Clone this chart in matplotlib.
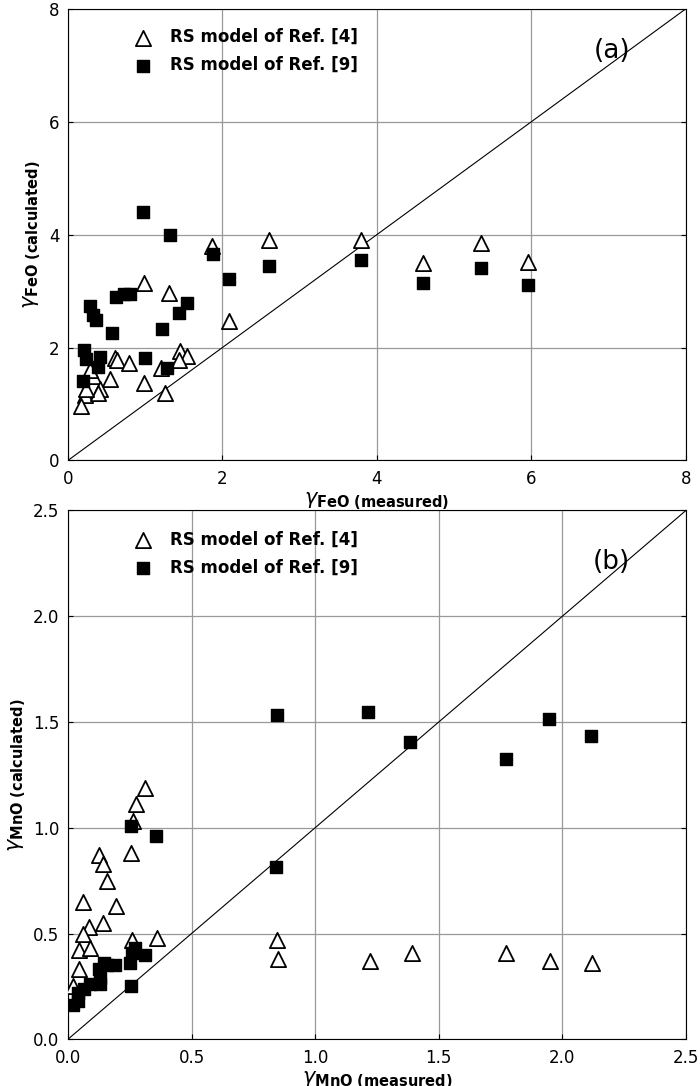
import numpy as np
import matplotlib.pyplot as plt

# panel (a) FeO
a_ref4_x = [1.87, 0.98, 1.31, 2.08, 1.45, 1.54, 1.44, 0.61, 0.64, 0.79, 1.21, 0.54, 0.99, 1.26,
            0.33, 0.28, 0.41, 0.22, 0.17, 0.39, 0.23, 2.6, 3.8, 4.6, 5.35, 5.95]
a_ref4_y = [3.80, 3.15, 2.97, 2.47, 1.93, 1.85, 1.78, 1.81, 1.78, 1.73, 1.63, 1.44, 1.38, 1.20,
            1.50, 1.60, 1.27, 1.16, 0.97, 1.20, 1.27, 3.9, 3.9, 3.5, 3.85, 3.52]
a_ref9_x = [0.97, 1.32, 1.88, 2.09, 0.62, 0.80, 0.29, 0.32, 0.37, 1.54, 1.44, 0.57, 1.22, 0.21,
            0.24, 0.42, 0.39, 1.0, 1.28, 0.20, 0.72, 2.6, 3.8, 4.6, 5.35, 5.95]
a_ref9_y = [4.40, 3.99, 3.66, 3.21, 2.90, 2.94, 2.73, 2.57, 2.48, 2.78, 2.62, 2.25, 2.32, 1.96,
            1.80, 1.84, 1.66, 1.82, 1.63, 1.40, 2.95, 3.45, 3.55, 3.15, 3.4, 3.1]

# panel (b) MnO
b_ref4_x = [0.31, 0.275, 0.265, 0.255, 0.125, 0.14, 0.16, 0.06, 0.195, 0.14, 0.085, 0.06, 0.26,
            0.36, 0.045, 0.09, 0.045, 0.02, 0.845, 0.85, 1.22, 1.39, 1.77, 1.95, 2.12]
b_ref4_y = [1.19, 1.11, 1.03, 0.88, 0.87, 0.83, 0.75, 0.65, 0.63, 0.55, 0.53, 0.50, 0.47,
            0.48, 0.42, 0.43, 0.33, 0.25, 0.47, 0.38, 0.37, 0.41, 0.41, 0.37, 0.36]
b_ref9_x = [0.255, 0.357, 0.26, 0.27, 0.25, 0.31, 0.19, 0.16, 0.125, 0.13, 0.13, 0.09, 0.065,
            0.04, 0.04, 0.02, 0.255, 0.145, 0.845, 1.214, 1.382, 1.772, 1.947, 2.115, 0.84]
b_ref9_y = [1.01, 0.96, 0.41, 0.43, 0.36, 0.40, 0.35, 0.35, 0.33, 0.29, 0.26, 0.26, 0.24,
            0.22, 0.18, 0.16, 0.25, 0.36, 1.533, 1.546, 1.406, 1.327, 1.515, 1.434, 0.816]

fig = plt.figure(figsize=(7, 10.86), dpi=100)
ax1 = fig.add_axes([0.097, 0.576, 0.883, 0.416])
ax2 = fig.add_axes([0.097, 0.043, 0.883, 0.487])


def style(ax, lim, step, sub, tag):
    ax.set_xlim(0, lim)
    ax.set_ylim(0, lim)
    ax.set_xticks(np.arange(0, lim + 1e-9, step))
    ax.set_yticks(np.arange(0, lim + 1e-9, step))
    ax.grid(True, color='#999999', lw=0.9)
    ax.set_axisbelow(True)
    ax.tick_params(direction='in', right=True, top=False, labelsize=12)
    ax.tick_params(axis='x', pad=7)
    ax.tick_params(axis='y', pad=6)
    ax.plot([0, lim], [0, lim], color='black', lw=0.8)
    ax.set_xlabel(r'$\gamma$' + r'$_{\bf ' + sub + r'\ (measured)}$', fontsize=15, labelpad=2)
    ax.set_ylabel(r'$\gamma$' + r'$_{\bf ' + sub + r'\ (calculated)}$', fontsize=15)
    ax.text(0.88, 0.89, tag, transform=ax.transAxes, fontsize=19, ha='center')
    ax.legend(loc='upper left', frameon=False, prop={'weight': 'bold', 'size': 12},
              bbox_to_anchor=(0.07, 0.99), handletextpad=0.6, labelspacing=0.6)


ax1.scatter(a_ref4_x, a_ref4_y, marker='^', s=120, facecolors='white', edgecolors='black',
            linewidths=1.3, label='RS model of Ref. [4]', zorder=3)
ax1.scatter(a_ref9_x, a_ref9_y, marker='s', s=80, color='black', label='RS model of Ref. [9]', zorder=3)
style(ax1, 8, 2, 'FeO', '(a)')
ax1.set_xticklabels(['0', '2', '4', '6', '8'])
ax1.set_yticklabels(['0', '2', '4', '6', '8'])

ax2.scatter(b_ref4_x, b_ref4_y, marker='^', s=120, facecolors='white', edgecolors='black',
            linewidths=1.3, label='RS model of Ref. [4]', zorder=3)
ax2.scatter(b_ref9_x, b_ref9_y, marker='s', s=80, color='black', label='RS model of Ref. [9]', zorder=3)
style(ax2, 2.5, 0.5, 'MnO', '(b)')

fig.savefig('out.png')
